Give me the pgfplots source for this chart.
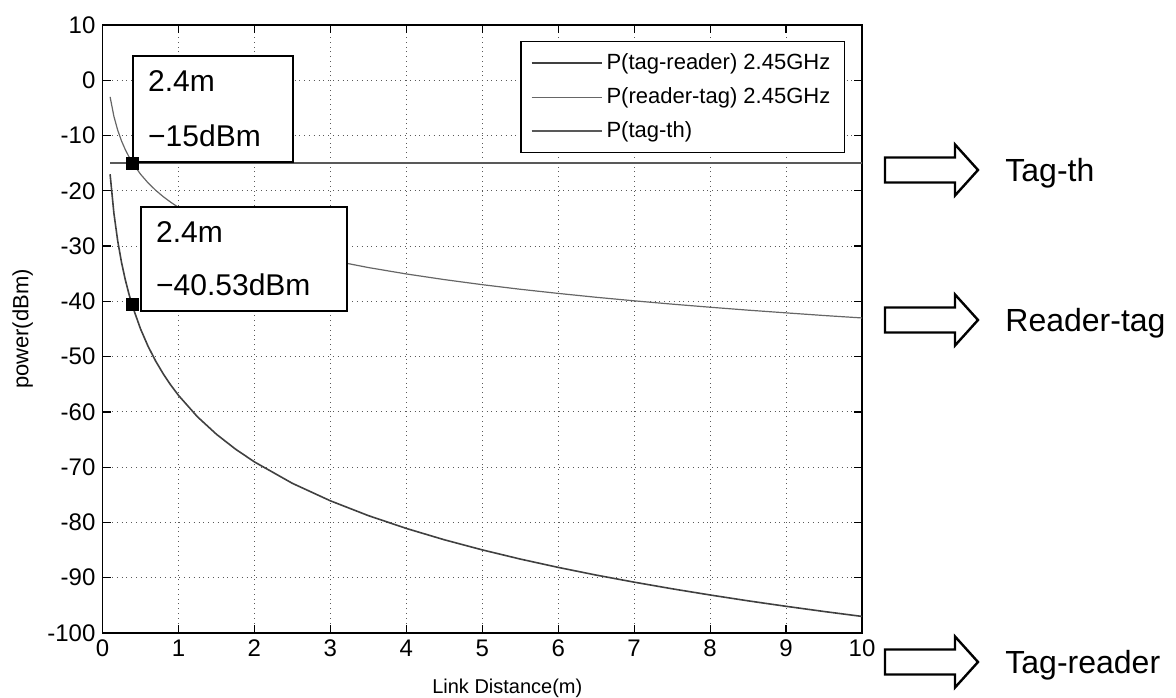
\documentclass[border=0pt]{standalone}
\usepackage{fontspec}
\setmainfont{Liberation Sans}
\usepackage{pgfplots}
\pgfplotsset{compat=1.18}
\pgfplotstableread{
x y
0.10 -17.00
0.15 -24.04
0.20 -29.04
0.25 -32.92
0.30 -36.08
0.35 -38.76
0.40 -41.08
0.50 -44.96
0.60 -48.13
0.70 -50.80
0.80 -53.12
0.90 -55.17
1.00 -57.00
1.25 -60.88
1.50 -64.04
1.75 -66.72
2.00 -69.04
2.50 -72.92
3.00 -76.08
3.50 -78.76
4.00 -81.08
4.50 -83.13
5.00 -84.96
5.50 -86.62
6.00 -88.13
6.50 -89.52
7.00 -90.80
7.50 -92.00
8.00 -93.12
8.50 -94.18
9.00 -95.17
9.50 -96.11
10.00 -97.00
}\tagreader
\pgfplotstableread{
x y
0.10 -3.00
0.15 -6.52
0.20 -9.02
0.25 -10.96
0.30 -12.54
0.35 -13.88
0.40 -15.04
0.50 -16.98
0.60 -18.56
0.70 -19.90
0.80 -21.06
0.90 -22.08
1.00 -23.00
1.25 -24.94
1.50 -26.52
1.75 -27.86
2.00 -29.02
2.50 -30.96
3.00 -32.54
3.50 -33.88
4.00 -35.04
4.50 -36.06
5.00 -36.98
5.50 -37.81
6.00 -38.56
6.50 -39.26
7.00 -39.90
7.50 -40.50
8.00 -41.06
8.50 -41.59
9.00 -42.08
9.50 -42.56
10.00 -43.00
}\readertag
\pgfplotstableread{
x y
0.10 -15
10.00 -15
}\tagth
\begin{document}
\begin{tikzpicture}
\begin{axis}[
  at={(51.25pt,32pt)}, anchor=south west,
  scale only axis, width=379.75pt, height=304pt,
  xmin=0, xmax=10, ymin=-100, ymax=10,
  xtick={0,1,...,10}, ytick={-100,-90,...,10},
  grid=major,
  major grid style={dotted, black!65, line width=0.5pt},
  tick align=inside,
  major tick length=4pt,
  tick style={black, line width=0.6pt},
  axis line style={black, line width=0.9pt},
  /pgf/number format/assume math mode=true,
  ticklabel style={font=\fontsize{12}{14}\selectfont},
  xlabel={Link Distance(m)},
  ylabel={power(dBm)},
  xlabel style={at={(axis description cs:0.533,-0.0905)}, anchor=center, font=\fontsize{10}{12}\selectfont},
  ylabel style={at={(axis description cs:-0.105,0.5)}, anchor=center, font=\fontsize{11}{13}\selectfont},
  legend style={at={(axis description cs:1,1)}, anchor=north east, xshift=-8.5pt, yshift=-8pt,
    font=\fontsize{11}{13}\selectfont, draw=black, line width=0.7pt, row sep=3.5pt,
    inner xsep=5pt, inner ysep=4pt},
  legend cell align=left,
  legend image code/.code={\draw[#1] (0pt,0pt) -- (35pt,0pt);},
]
\addplot[black!75, line width=0.8pt] table[x=x,y=y] {\tagreader};
\addlegendentry{P(tag-reader) 2.45GHz}
\addplot[black!60, line width=0.6pt] table[x=x,y=y] {\readertag};
\addlegendentry{P(reader-tag) 2.45GHz}
\addplot[black!65, line width=0.7pt] table[x=x,y=y] {\tagth};
\addlegendentry{P(tag-th)}
\node[draw=black, line width=1.1pt, fill=white, anchor=south west, inner sep=7.5pt,
  text width=65pt, align=left, font=\fontsize{15}{27.5}\selectfont]
  at (axis cs:0.39,-15) {2.4m\\−15dBm};
\node[draw=black, line width=1.1pt, fill=white, anchor=south west, inner sep=7.5pt,
  text width=88pt, align=left, font=\fontsize{15}{26.5}\selectfont, xshift=4pt, yshift=-4pt]
  at (axis cs:0.39,-40.53) {2.4m\\−40.53dBm};
\addplot[only marks, mark=square*, mark size=3pt, black, forget plot] coordinates {(0.39,-15) (0.39,-40.53)};
\end{axis}
\foreach \cy/\lab in {263.5/Tag-th, 188.5/Reader-tag, 17.5/Tag-reader}{
  \begin{scope}[shift={(0pt,\cy pt)}]
    \draw[line width=1.2pt, line join=miter] (442.5pt,6.25pt) -- (477.5pt,6.25pt) -- (477.5pt,12.75pt)
      -- (489pt,0pt) -- (477.5pt,-12.75pt) -- (477.5pt,-6.25pt) -- (442.5pt,-6.25pt) -- cycle;
    \node[anchor=base west, inner sep=0pt, font=\fontsize{16}{19}\selectfont] at (502.5pt,-5.7pt) {\lab};
  \end{scope}
}
\pgfresetboundingbox
\path (0pt,0pt) rectangle (588pt,348.5pt);
\end{tikzpicture}
\end{document}
